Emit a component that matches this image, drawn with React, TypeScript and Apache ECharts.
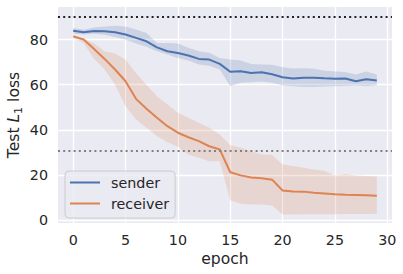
import React, { useEffect, useRef } from "react";
import * as echarts from "echarts";

const epochs = [0, 1, 2, 3, 4, 5, 6, 7, 8, 9, 10, 11, 12, 13, 14, 15, 16, 17, 18, 19, 20, 21, 22, 23, 24, 25, 26, 27, 28, 29];
const senderMean = [83.9, 83.2, 83.8, 83.7, 83.2, 82.2, 80.7, 79.2, 76.5, 74.8, 74.0, 72.9, 71.4, 71.1, 69.2, 65.7, 65.9, 65.2, 65.5, 64.6, 63.3, 62.7, 63.1, 63.1, 62.8, 62.6, 62.7, 61.5, 62.4, 61.8];
const senderUpper = [85.1, 84.3, 85.3, 85.8, 86.1, 85.8, 84.4, 82.9, 78.5, 78.5, 78.2, 76.3, 74.8, 74.1, 71.8, 71.1, 70.7, 69.2, 68.9, 68.8, 67.7, 67.1, 67.3, 67.0, 66.2, 65.8, 65.6, 64.5, 65.8, 64.5];
const senderLower = [82.6, 82.2, 82.5, 82.1, 81.1, 79.9, 78.2, 76.8, 74.8, 73.3, 71.8, 70.7, 68.9, 68.4, 66.7, 59.3, 60.8, 61.1, 61.4, 60.8, 59.6, 59.3, 59.0, 59.0, 59.2, 59.3, 59.4, 59.6, 59.3, 59.7];
const receiverMean = [81.4, 80.0, 75.8, 71.4, 66.7, 61.5, 53.7, 49.3, 45.3, 41.6, 38.7, 36.7, 35.0, 32.7, 31.3, 21.2, 19.8, 18.9, 18.5, 17.9, 13.1, 12.7, 12.6, 12.1, 11.8, 11.4, 11.2, 11.1, 11.0, 10.8];
const receiverUpper = [82.2, 80.3, 78.2, 74.8, 73.8, 71.1, 65.2, 60.0, 54.9, 51.2, 47.5, 45.3, 43.1, 40.9, 37.9, 33.2, 32.0, 30.5, 29.1, 28.8, 24.6, 23.9, 23.2, 22.4, 21.7, 19.8, 20.4, 19.8, 19.5, 19.3];
const receiverLower = [80.7, 78.5, 71.4, 66.7, 60.0, 50.4, 44.6, 40.9, 37.2, 34.5, 32.5, 29.1, 27.6, 26.1, 26.1, 8.8, 7.2, 6.9, 6.9, 6.5, 2.5, 2.5, 2.6, 2.6, 2.6, 2.6, 2.7, 2.7, 2.7, 2.8];
const xTicks = [0, 5, 10, 15, 20, 25, 30];
const yTicks = [0, 20, 40, 60, 80];
const upperRef = 90;
const lowerRef = 30.6;
const seriesNames = ["sender", "receiver"];

const BLUE = "#4c72b0";
const ORANGE = "#dd8452";
const FONT = "DejaVu Sans";
const TXT = "#262626";

function bandSeries(lower: number[], upper: number[], color: string) {
  return {
    type: "custom",
    silent: true,
    clip: true,
    z: 1,
    data: [[0, lower[0]]],
    encode: { x: 0, y: 1 },
    renderItem: (params: any, api: any) => {
      const pts: number[][] = [];
      for (let i = 0; i < epochs.length; i++) pts.push(api.coord([epochs[i], upper[i]]));
      for (let i = epochs.length - 1; i >= 0; i--) pts.push(api.coord([epochs[i], lower[i]]));
      return {
        type: "polygon",
        shape: { points: pts },
        style: { fill: color, opacity: 0.2 },
      };
    },
  };
}

export default function App() {
  const ref = useRef<HTMLDivElement>(null);
  useEffect(() => {
    if (!ref.current) return;
    const chart = echarts.init(ref.current, undefined, { renderer: "svg" });
    chart.setOption({
      animation: false,
      backgroundColor: "#ffffff",
      textStyle: { fontFamily: FONT },
      grid: {
        left: 58,
        right: 11,
        top: 7,
        bottom: 51,
        containLabel: false,
        outerBoundsMode: "none",
        backgroundColor: "#eaeaf2",
        show: true,
        borderWidth: 0,
      },
      legend: {
        orient: "vertical",
        left: 65,
        top: 171,
        data: seriesNames.map((n) => ({ name: n, icon: "rect" })),
        itemWidth: 30,
        itemHeight: 2,
        itemGap: 4,
        padding: [3, 6, 6, 5],
        backgroundColor: "rgba(234,234,242,0.8)",
        borderColor: "#cccccc",
        borderWidth: 1,
        borderRadius: 4,
        textStyle: { fontFamily: FONT, fontSize: 14.3, color: TXT, padding: [0, 0, 0, 6], lineHeight: 17 },
      },
      xAxis: {
        type: "value",
        min: -1.45,
        max: 30.45,
        axisLine: { show: false },
        axisTick: { show: false, customValues: xTicks },
        axisLabel: { customValues: xTicks, margin: 10, fontSize: 14.3, color: TXT, fontFamily: FONT },
        splitLine: { show: true, lineStyle: { color: "#ffffff", width: 1.3 } },
        name: "epoch",
        nameLocation: "middle",
        nameGap: 28,
        nameMoveOverlap: false,
        nameTextStyle: { fontSize: 15.6, color: TXT, fontFamily: FONT },
      },
      yAxis: {
        type: "value",
        min: -1.3,
        max: 94.4,
        axisLine: { show: false },
        axisTick: { show: false, customValues: yTicks },
        axisLabel: { customValues: yTicks, margin: 10, fontSize: 14.3, color: TXT, fontFamily: FONT },
        splitLine: { show: true, lineStyle: { color: "#ffffff", width: 1.3 } },
        name: "Test {it|L}{sub|1} loss",
        nameLocation: "middle",
        nameGap: 34,
        nameMoveOverlap: false,
        nameRotate: 90,
        nameTextStyle: {
          fontSize: 15.6,
          color: TXT,
          fontFamily: FONT,
          lineHeight: 20,
          rich: {
            it: { fontSize: 15.6, fontStyle: "italic", color: TXT, fontFamily: FONT, lineHeight: 20 },
            sub: { fontSize: 11, color: TXT, fontFamily: FONT, verticalAlign: "bottom", lineHeight: 12 },
          },
        },
      },
      series: [
        bandSeries(senderLower, senderUpper, BLUE),
        bandSeries(receiverLower, receiverUpper, ORANGE),
        {
          name: "sender",
          type: "line",
          data: epochs.map((x, i) => [x, senderMean[i]]),
          symbol: "none",
          showSymbol: false,
          lineStyle: { color: BLUE, width: 2 },
          itemStyle: { color: BLUE },
          z: 3,
        },
        {
          name: "receiver",
          type: "line",
          data: epochs.map((x, i) => [x, receiverMean[i]]),
          symbol: "none",
          showSymbol: false,
          lineStyle: { color: ORANGE, width: 2 },
          itemStyle: { color: ORANGE },
          z: 3,
          markLine: {
            silent: true,
            symbol: "none",
            label: { show: false },
            data: [
              { yAxis: upperRef, lineStyle: { color: "#222222", type: [2, 3.2], width: 2 } },
              { yAxis: lowerRef, lineStyle: { color: "#808080", type: [2, 3.2], width: 2 } },
            ],
          },
        },
      ],
    });
    return () => chart.dispose();
  }, []);
  return <div ref={ref} style={{ position: "absolute", left: 0, top: 0, width: 403, height: 274 }} />;
}
